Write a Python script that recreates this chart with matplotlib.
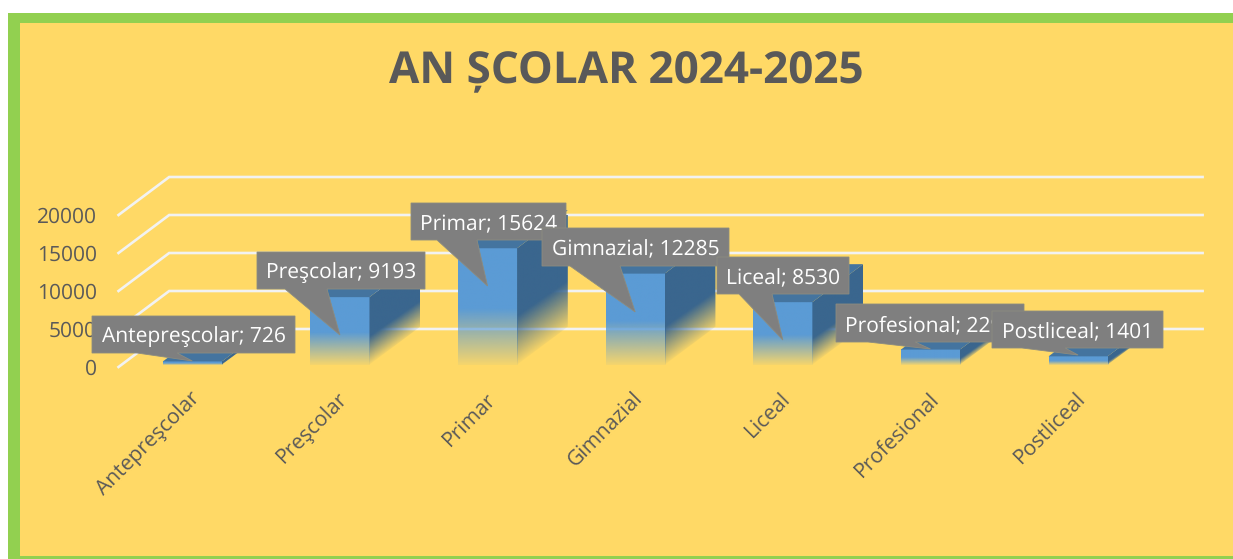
import numpy as np
import matplotlib
matplotlib.use("Agg")
import matplotlib.pyplot as plt
from matplotlib.patches import Polygon, Rectangle
from matplotlib.transforms import ScaledTranslation

plt.rcParams["text.hinting"] = "no_hinting"
plt.rcParams["text.hinting_factor"] = 1

# ---- data ----
categories = ["Antepreşcolar", "Preşcolar", "Primar", "Gimnazial", "Liceal", "Profesional", "Postliceal"]
values = [726, 9193, 15624, 12285, 8530, 2290, 1401]
y_ticks = [0, 5000, 10000, 15000, 20000]
title = "AN ȘCOLAR 2024-2025"

# ---- layout (pixels of the 1233x559 picture) ----
W, H = 1233, 559
callout_boxes = [(92, 316, 295, 353), (257, 252, 425, 289), (411, 203, 566, 240), (542, 228, 729, 266),
                 (717, 257, 849, 294), (836, 304, 1024, 342), (992, 311, 1163, 348)]
callout_bases = [(137, 177), (285, 327), (437, 477), (570, 620), (739, 772), (868, 915), (1022, 1065)]
callout_tips_y = [361, 335, 286, 312, 340, 349, 355]
AX_L, AX_R, AX_TOP, AX_BOT = 118.5, 1151.9, 215.0, 367.0   # front plane of the 3-D box
DEPTH_X_PX = 50.7
BAR_W = 0.40
BASE = 300.0            # bars start slightly above the floor
FONT = ["Open Sans", "DejaVu Sans"]
FS = 15.0
GREY = "#595959"
BG, BORDER = "#FFD966", "#92D050"
FRONT, SIDE, TOP = np.array([0x5B, 0x9B, 0xD5]) / 255, np.array([0x3A, 0x66, 0x8E]) / 255, "#44749F"

fig = plt.figure(figsize=(W / 100, H / 100), dpi=100, facecolor="white")

# chrome and title live in a pixel-space underlay
bgax = fig.add_axes([0, 0, 1, 1], zorder=0)
bgax.set_xlim(0, W); bgax.set_ylim(H, 0); bgax.axis("off")
bgax.add_patch(Rectangle((8, 13), W - 8, H - 13, fc=BORDER, ec="none"))
bgax.add_patch(Rectangle((20, 23), W - 20, 556 - 23, fc=BG, ec="none"))
bgax.text(626, 83, title, ha="center", va="baseline", fontsize=31.5, fontweight="bold",
          color=GREY, family=FONT)

# data axes: the front plane of the chart
ax = fig.add_axes([AX_L / W, 1 - AX_BOT / H, (AX_R - AX_L) / W, (AX_BOT - AX_TOP) / H], zorder=1)
ax.patch.set_alpha(0)
ax.set_xlim(-0.5, len(categories) - 0.5)
ax.set_ylim(0, 20000)
for s in ax.spines.values():
    s.set_visible(False)

depth_x = DEPTH_X_PX * len(categories) / (AX_R - AX_L)   # depth in category units
depth_y = 5000.0                                          # depth in value units

# gridlines: slanted wall + back wall
for v in y_ticks:
    ax.plot([-0.5, -0.5 + depth_x, len(categories) - 0.5 + depth_x], [v, v + depth_y, v + depth_y],
            color="#F2F2F2", lw=1.9, clip_on=False, zorder=1, solid_joinstyle="miter")


def fade(h, span=0.48, floor=0.06):
    return np.clip(floor + (1 - floor) * h / span, floor, 1.0)


for i, v in enumerate(values):
    x0, x1 = i - BAR_W / 2, i + BAR_W / 2
    # front face
    n = 200
    h = np.linspace(1, 0, n)[:, None]
    img = np.zeros((n, 1, 4))
    img[..., :3] = FRONT
    img[..., 3] = fade(h)
    ax.imshow(img, extent=[x0, x1, BASE, v], aspect="auto", zorder=3, clip_on=False,
              interpolation="bilinear")
    # side face with a gradient tilted a little off the skew
    ny, nx = 300, 60
    xs = np.linspace(0, 1, nx)
    ys = np.linspace(BASE, v + depth_y, ny)[::-1]
    X, Y = np.meshgrid(xs, ys)
    hs = (Y - X * depth_y * 0.92 - BASE) / max(v - BASE, 1)
    img2 = np.zeros((ny, nx, 4))
    img2[..., :3] = SIDE
    img2[..., 3] = fade(hs, span=0.42, floor=0.02)
    im = ax.imshow(img2, extent=[x1, x1 + depth_x, BASE, v + depth_y], aspect="auto", zorder=3,
                   interpolation="bilinear")
    poly = Polygon([(x1, BASE), (x1 + depth_x, BASE + depth_y), (x1 + depth_x, v + depth_y), (x1, v)],
                   transform=ax.transData, fc="none", ec="none")
    ax.add_patch(poly)
    im.set_clip_path(poly)
    # top face
    ax.add_patch(Polygon([(x0, v), (x1, v), (x1 + depth_x, v + depth_y), (x0 + depth_x, v + depth_y)],
                         fc=TOP, ec="none", zorder=3.5, clip_on=False))

ax.set_xlim(-0.5, len(categories) - 0.5)
ax.set_ylim(0, 20000)
ax.set_yticks(y_ticks, [str(t) for t in y_ticks], family=FONT, fontsize=FS, color=GREY)
ax.set_xticks(range(len(categories)), categories, family=FONT, fontsize=FS, color=GREY,
              rotation=45, ha="right", va="top", rotation_mode="anchor")
ax.tick_params(axis="both", length=0)
ax.tick_params(axis="y", pad=15.5)
ax.tick_params(axis="x", pad=15.5)
shift = ScaledTranslation(-1.6 / 72, 0, fig.dpi_scale_trans)
for lab in ax.get_xticklabels():
    lab.set_transform(lab.get_transform() + shift)

# callouts on top of everything
ov = fig.add_axes([0, 0, 1, 1], zorder=2)
ov.set_xlim(0, W); ov.set_ylim(H, 0); ov.axis("off"); ov.patch.set_alpha(0)
to_px = ax.transData
inv = ov.transData.inverted()
for k, (name, v) in enumerate(zip(categories, values)):
    l, t, r, b = callout_boxes[k]
    bl, br = callout_bases[k]
    tip_x = inv.transform(to_px.transform((k, 0)))[0]
    ov.add_patch(Polygon([(l, t), (r, t), (r, b), (br, b), (tip_x, callout_tips_y[k]), (bl, b), (l, b)],
                         fc="#7F7F7F", ec="#8C8C80", lw=0.6, zorder=10 + k * 2))
    ov.text((l + r) / 2, (t + b) / 2 + 3.0, f"{name}; {v}", ha="center", va="center", color="white",
            fontsize=FS, family=FONT, zorder=11 + k * 2)

fig.savefig("out.png", dpi=100, facecolor="white")
